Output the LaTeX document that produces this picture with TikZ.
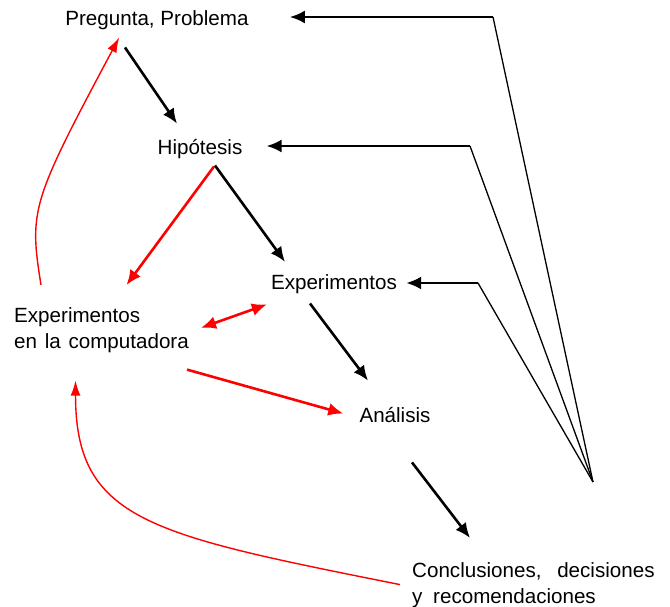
\documentclass[tikz,border=0pt]{standalone}
\usepackage{fontspec}
\setmainfont{Liberation Sans}
\usetikzlibrary{calc,arrows.meta}

\begin{document}
\begin{tikzpicture}[x=1pt, y=-1pt,
    lbl/.style={inner sep=0pt, font=\fontsize{20.6}{26}\selectfont},
    blk/.style={line width=2.6pt, ->},
    rd/.style={red, line width=2.6pt, ->},
    rdthin/.style={red, line width=1.4pt, -{Latex[length=15pt,width=10pt]}},
    thin/.style={line width=1.3pt},
    >={Latex[length=15pt,width=13pt]}]

  \useasboundingbox (0,0) rectangle (670,607);

  \node[lbl,anchor=base] (preg) at (157,26) {Pregunta, Problema};
  \node[lbl,anchor=base] (hip) at (200,155) {Hipótesis};
  \node[lbl,anchor=base] (exp) at (334,289) {Experimentos};
  \node[lbl,anchor=north west,align=left] (comp) at (14,307) {Experimentos\\en\hspace{2pt} la\hspace{2pt} computadora};
  \node[lbl,anchor=base] (anal) at (395,422) {Análisis};
  \node[lbl,anchor=north west,align=left] (concl) at (412,562)
    {Conclusiones,\hspace{10pt} decisiones\\y\hspace{5pt} recomendaciones};

  % feedback lines
  \coordinate (fan) at (593,482);
  \coordinate (k1) at (493,17);
  \coordinate (k2) at (470,146);
  \coordinate (k3) at (478,283);

  \draw[thin] (fan) -- (k1);
  \draw[thin] (fan) -- (k2);
  \draw[thin] (fan) -- (k3);
  \draw[blk,shorten >=41pt] (k1) -- (k1 -| preg.east);
  \draw[blk,shorten >=24pt] (k2) -- (k2 -| hip.east);
  \draw[blk,shorten >=9pt] (k3) -- (k3 -| exp.east);

  \draw[blk] ($(preg.south)+(-32,17)$) -- ($(hip.north)+(-23,-16)$);
  \draw[blk] ($(hip.south)+(15,6)$) -- ($(exp.north)+(-49,-12)$);
  \draw[blk] ($(exp.south)+(-24,10)$) -- ($(anal.north)+(-27,-26)$);
  \draw[blk] ($(anal.south)+(17,40)$) -- ($(concl.north west)+(58,-24)$);

  \draw[rd] ($(hip.south)+(14,7)$) -- ($(comp.north)+(25,-22)$);
  \draw[rd,<->] ($(comp.east)+(12,-2)$) -- ($(exp.south west)+(-4,11)$);
  \draw[rd] ($(comp.south east)+(-2,17)$) -- ($(anal.west)+(-16,-1)$);

  \draw[rdthin] ($(comp.north west)+(27,-22)$) .. controls +(-12,-75) and +(-88,165) .. ($(preg.south west)+(54,7)$);
  \draw[rdthin] ($(concl.south west)+(-12,-23)$) .. controls +(-250,-50) and +(0,140) .. ($(comp.south)+(-26,28)$);

\end{tikzpicture}
\end{document}
